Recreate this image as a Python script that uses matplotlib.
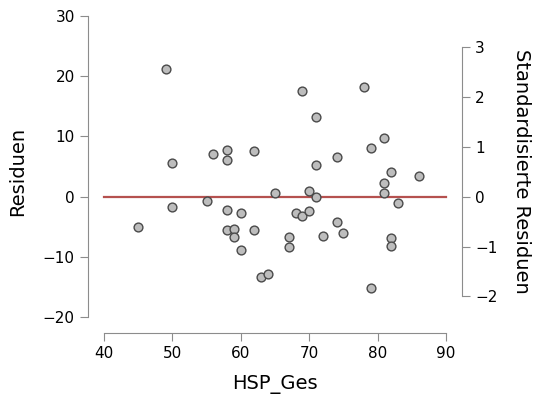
import matplotlib
matplotlib.use("Agg")
import matplotlib.pyplot as plt
import numpy as np

hsp_ges = [45, 49, 50, 50, 55, 56, 58, 58, 58, 58, 59, 59, 60, 60, 62, 62, 63, 64,
           65, 67, 67, 68, 69, 69, 70, 70, 71, 71, 71, 72, 74, 74, 75, 78, 79, 79,
           81, 81, 81, 82, 82, 82, 83, 86]
residuen = [-5.0, 21.2, 5.5, -1.8, -0.8, 7.0, 7.8, 6.1, -2.3, -5.5, -5.3, -6.7, -2.8, -8.8,
            7.5, -5.6, -13.3, -12.9, 0.55, -6.7, -8.3, -2.8, 17.5, -3.2, 1.0, -2.4, 13.2,
            5.2, -0.1, -6.5, 6.5, -4.3, -6.1, 18.2, 8.0, -15.1, 9.7, 2.3, 0.6, 4.1, -6.9,
            -8.2, -1.0, 3.4]
x_ticks = [40, 50, 60, 70, 80, 90]
y_ticks = [-20, -10, 0, 10, 20, 30]
std_ticks = [-2, -1, 0, 1, 2, 3]
std_scale = 8.29  # residual units per standardized unit

W, H = 542, 405
fig = plt.figure(figsize=(W / 100, H / 100), dpi=100)
plt.rcParams['font.family'] = ['DejaVu Sans']

# axes pixel frame
left_px, right_px, top_px, bot_px = 88, 462, 10, 333
ax = fig.add_axes([left_px / W, 1 - bot_px / H, (right_px - left_px) / W, (bot_px - top_px) / H])

xpu = (446 - 104) / 50.0
ypu = (317 - 16) / 50.0
ax.set_xlim(40 - (104 - left_px) / xpu, 90 + (right_px - 446) / xpu)
ax.set_ylim(-20 - (bot_px - 317) / ypu, 30 + (16 - top_px) / ypu)

gray = '#8c8c8c'
ax.plot([40, 90], [0, 0], color='#b5514f', lw=1.6, zorder=2)
ax.scatter(hsp_ges, residuen, s=40, facecolor='#bdbdbd', edgecolor='#4a4a4a', lw=1.0, zorder=3)

for s in ['top', 'right']:
    ax.spines[s].set_visible(False)
ax.spines['left'].set_bounds(-20, 30)
ax.spines['bottom'].set_bounds(40, 90)
for s in ['left', 'bottom']:
    ax.spines[s].set_color(gray)
ax.set_xticks(x_ticks)
ax.set_yticks(y_ticks)
ax.tick_params(colors=gray, labelcolor='black', labelsize=11, length=6, width=0.8)
ax.set_xlabel('HSP_Ges', fontsize=14, labelpad=10)
ax.set_ylabel('Residuen', fontsize=14, labelpad=11)

ax2 = ax.twinx()
y0, y1 = ax.get_ylim()
ax2.set_ylim(y0 / std_scale, y1 / std_scale)
for s in ['top', 'left', 'bottom']:
    ax2.spines[s].set_visible(False)
ax2.spines['right'].set_bounds(-2, 3)
ax2.spines['right'].set_color(gray)
ax2.set_yticks(std_ticks)
ax2.tick_params(colors=gray, labelcolor='black', labelsize=11, length=6, width=0.8)
ax2.set_ylabel('Standardisierte Residuen', fontsize=14, rotation=270, labelpad=24)

fig.savefig('out.png', dpi=100)
